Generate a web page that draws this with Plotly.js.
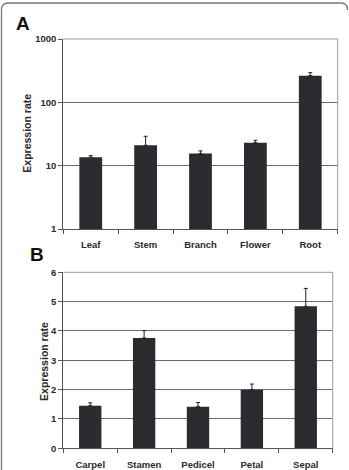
<!DOCTYPE html>
<html>
<head>
<meta charset="utf-8">
<script src="https://cdn.plot.ly/plotly-3.0.1.min.js"></script>
<style>
  html, body { margin: 0; padding: 0; background: #fff; }
  #chart { width: 349px; height: 470px; }
</style>
</head>
<body>
<div id="chart"></div>
<script>
// Panel A: expression across plant organs (log scale)
const organs = ["Leaf", "Stem", "Branch", "Flower", "Root"];
const organRate = [13.6, 21.0, 15.5, 23.1, 264];
const organErr = [0.8, 8.1, 1.6, 2.1, 30];

// Panel B: expression across floral parts (linear scale)
const floralParts = ["Carpel", "Stamen", "Pedicel", "Petal", "Sepal"];
const floralRate = [1.45, 3.76, 1.42, 2.0, 4.84];
const floralErr = [0.1, 0.25, 0.14, 0.19, 0.61];

const logTickVals = [1, 10, 100, 1000];
const logTickText = ["1", "10", "100", "1000"];
const yTitle = "Expression rate";
const panelLabels = ["A", "B"];

const W = 349, H = 470;
const px = v => v / W;
const py = v => 1 - v / H;

const FONT = "Liberation Sans, Arial, Helvetica, sans-serif";
const BAR = "#2b2b30";
const tickFont = { family: FONT, size: 9.5, color: "#2a2a2a", weight: "bold" };
const titleFont = { family: FONT, size: 10.5, color: "#2a2a2a", weight: "bold" };

function barTrace(x, y, err, xa, ya) {
  return {
    type: "bar", x: x, y: y, xaxis: xa, yaxis: ya,
    marker: { color: BAR, line: { width: 0 } },
    error_y: {
      type: "data", array: err, arrayminus: err.map(() => 0), symmetric: false,
      color: "#222", thickness: 1, width: 2
    },
    hoverinfo: "skip", showlegend: false
  };
}

const traces = [
  barTrace(organs, organRate, organErr, "x", "y"),
  barTrace(floralParts, floralRate, floralErr, "x2", "y2")
];

const xCommon = {
  type: "category", tickson: "boundaries", ticks: "outside", ticklen: 4,
  tickcolor: "#555", tickwidth: 1, showline: true, linecolor: "#555", linewidth: 1,
  showgrid: false, zeroline: false, tickfont: tickFont, ticklabelstandoff: 7,
  fixedrange: true
};
const yCommon = {
  ticks: "outside", ticklen: 4, tickcolor: "#555", showline: true, linecolor: "#555",
  linewidth: 1, gridcolor: "#6a6a6a", gridwidth: 1, zeroline: false,
  tickfont: tickFont, ticklabelstandoff: 0, fixedrange: true
};

// Domains (paper fractions) for the two stacked panels
const aX = [px(63.3), px(337.7)], aY = [py(229), py(39)];
const bX = [px(63.3), px(332.7)], bY = [py(448.3), py(272.3)];

const layout = {
  width: W, height: H,
  margin: { l: 0, r: 0, t: 0, b: 0 },
  paper_bgcolor: "#fff", plot_bgcolor: "#fff",
  bargap: 0.585,
  xaxis: Object.assign({}, xCommon, { domain: aX, anchor: "y" }),
  yaxis: Object.assign({}, yCommon, {
    domain: aY, anchor: "x", type: "log", range: [0, 3],
    tickvals: logTickVals, ticktext: logTickText
  }),
  xaxis2: Object.assign({}, xCommon, { domain: bX, anchor: "y2" }),
  yaxis2: Object.assign({}, yCommon, {
    domain: bY, anchor: "x2", range: [0, 6], dtick: 1
  }),
  shapes: [
    // light top/right plot borders
    { type: "path", xref: "x domain", yref: "y domain", path: "M0,1 L1,1 L1,0",
      line: { color: "#9a9a9a", width: 1 } },
    { type: "path", xref: "x2 domain", yref: "y2 domain", path: "M0,1 L1,1 L1,0",
      line: { color: "#9a9a9a", width: 1 } },
    // rounded figure frame
    { type: "path", xref: "paper", yref: "paper",
      path: "M" + px(1.5) + "," + py(470) + " L" + px(1.5) + "," + py(10) +
            " Q" + px(1.5) + "," + py(3) + " " + px(8) + "," + py(3) +
            " L" + px(341) + "," + py(3) +
            " Q" + px(347.5) + "," + py(3) + " " + px(347.5) + "," + py(10),
      line: { color: "#777", width: 1.3 } }
  ],
  annotations: [
    { text: panelLabels[0], xref: "paper", yref: "paper", x: px(22.5), y: py(23.5),
      xanchor: "center", yanchor: "middle", showarrow: false,
      font: { family: FONT, size: 19, color: "#111", weight: "bold" } },
    { text: panelLabels[1], xref: "paper", yref: "paper", x: px(37), y: py(254.5),
      xanchor: "center", yanchor: "middle", showarrow: false,
      font: { family: FONT, size: 19, color: "#111", weight: "bold" } },
    // y-axis titles
    { text: yTitle, xref: "paper", yref: "paper", x: px(26.7), y: py(133),
      xanchor: "center", yanchor: "middle", textangle: -90, showarrow: false,
      font: titleFont },
    { text: yTitle, xref: "paper", yref: "paper", x: px(43.4), y: py(361.5),
      xanchor: "center", yanchor: "middle", textangle: -90, showarrow: false,
      font: titleFont }
  ]
};

Plotly.newPlot("chart", traces, layout, { staticPlot: true, displayModeBar: false });
</script>
</body>
</html>
